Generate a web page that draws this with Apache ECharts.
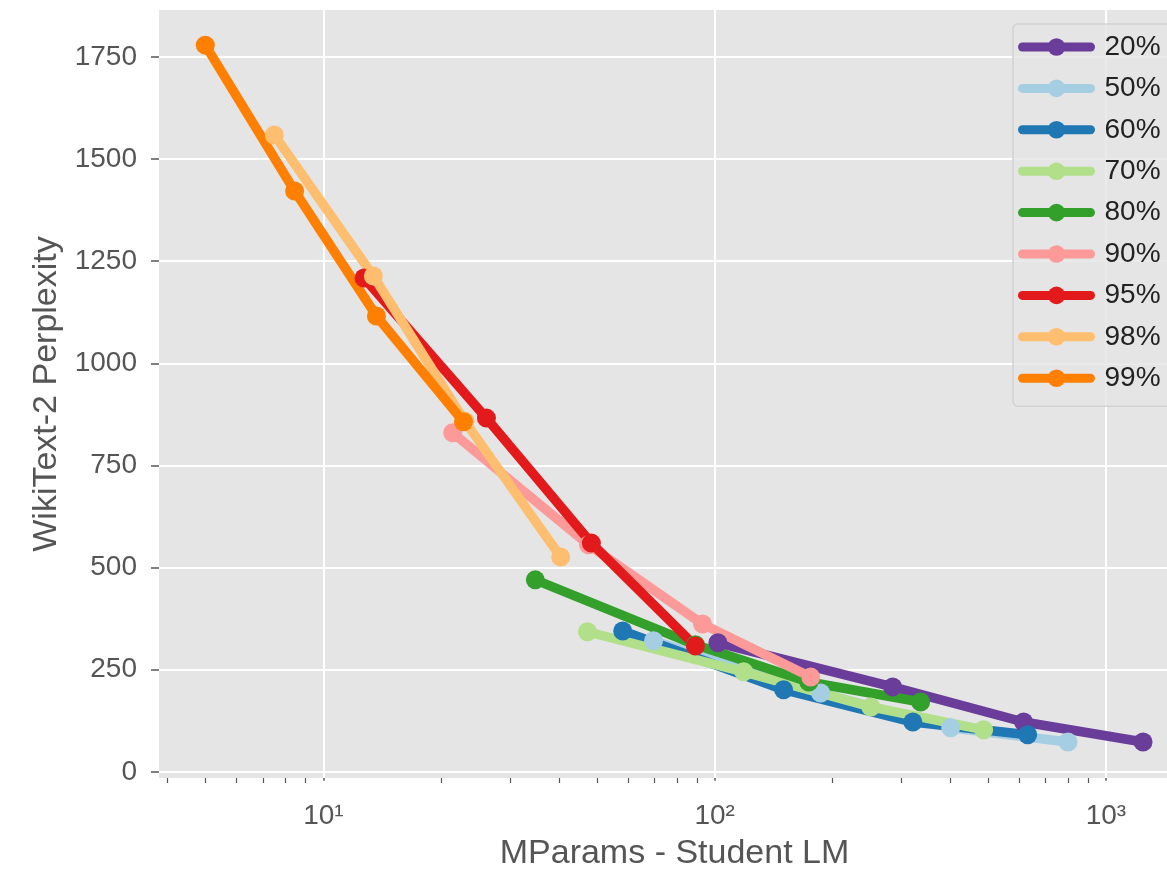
<!DOCTYPE html>
<html><head><meta charset="utf-8">
<script src="https://cdn.jsdelivr.net/npm/echarts@6/dist/echarts.min.js"></script>
<style>html,body{margin:0;padding:0;background:#fff}#c{width:1167px;height:873px}</style>
</head><body><div id="c"></div>
<script>
// Legend names / series (x = MParams of student LM, y = WikiText-2 perplexity)
const names = ['20%', '50%', '60%', '70%', '80%', '90%', '95%', '98%', '99%'];
const colors = ['#6a3d9a', '#a6cee3', '#1f78b4', '#b2df8a', '#33a02c', '#fb9a99', '#e31a1c', '#fdbf6f', '#ff7f00'];
const s20 = [[101.9, 316], [285, 208], [616, 122], [1244, 73]];
const s50 = [[69.8, 321], [186.6, 193], [401, 108], [800, 73]];
const s60 = [[58.2, 345], [150, 201], [321, 122], [631, 91]];
const s70 = [[47.3, 343], [118.6, 245], [250.7, 159], [487, 103]];
const s80 = [[34.8, 470], [89.3, 311], [174, 220], [336, 171]];
const s90 = [[21.4, 830], [47.6, 556], [93.1, 362], [176, 232]];
const s95 = [[12.7, 1209], [26.1, 866], [48.4, 560], [89.3, 308]];
const s98 = [[7.49, 1559], [13.42, 1214], [23.0, 858], [40.4, 526]];
const s99 = [[4.99, 1779], [8.44, 1422], [13.66, 1116], [22.8, 857]];
const seriesData = [s20, s50, s60, s70, s80, s90, s95, s98, s99];
// ticks
const yTicks = [0, 250, 500, 750, 1000, 1250, 1500, 1750];
const xMajor = [10, 100, 1000];
const xMinor = [4, 5, 6, 7, 8, 9, 20, 30, 40, 50, 60, 70, 80, 90, 200, 300, 400, 500, 600, 700, 800, 900];

const FONT = "'Liberation Sans', Arial, Helvetica, sans-serif";
const TXT = '#555555';
const sup = {1: '\u00b9', 2: '\u00b2', 3: '\u00b3'};

const chart = echarts.init(document.getElementById('c'), null, {renderer: 'canvas'});

const series = seriesData.map((d, i) => ({
  name: names[i],
  type: 'line',
  data: d,
  z: 3,
  symbol: 'circle',
  symbolSize: 19,
  showAllSymbol: true,
  lineStyle: {width: 9.5, color: colors[i], cap: 'round', join: 'round'},
  itemStyle: {color: colors[i]},
  emphasis: {disabled: true},
  animation: false
}));

// background grid lines through the library's scales
series.unshift({
  name: '__grid',
  type: 'line',
  data: [],
  z: 1,
  silent: true,
  animation: false,
  markLine: {
    z: 1,
    silent: true,
    animation: false,
    symbol: ['none', 'none'],
    label: {show: false},
    lineStyle: {color: '#ffffff', width: 2, type: 'solid'},
    emphasis: {disabled: true},
    data: yTicks.map(v => ({yAxis: v})).concat(xMajor.map(v => ({xAxis: v})))
  }
});

chart.setOption({
  animation: false,
  backgroundColor: '#ffffff',
  textStyle: {fontFamily: FONT},
  color: colors,
  grid: {
    left: 159, width: 1031, top: 10, bottom: 95,
    containLabel: false, outerBoundsMode: 'none',
    show: true, backgroundColor: '#e5e5e5', borderWidth: 0
  },
  legend: {
    data: names,
    orient: 'vertical',
    left: 1013, top: 24,
    padding: [9, 30, 14, 5],
    itemWidth: 68, itemHeight: 22, itemGap: 13.4,
    lineStyle: {width: 9},
    backgroundColor: 'rgba(229,229,229,0.8)',
    borderColor: 'rgba(204,204,204,0.8)',
    borderWidth: 1.5,
    borderRadius: 5,
    textStyle: {fontFamily: FONT, fontSize: 28, color: '#222', lineHeight: 28, padding: [0, 0, 0, 9]}
  },
  xAxis: [{
    type: 'log', logBase: 10, min: 3.8, max: 1640,
    name: 'MParams - Student LM',
    nameLocation: 'middle', nameGap: 59,
    nameTextStyle: {fontFamily: FONT, fontSize: 34, color: TXT},
    axisLine: {show: false},
    splitLine: {show: false},
    axisTick: {show: true, length: 9, lineStyle: {color: TXT, width: 1.5}, customValues: xMajor},
    axisLabel: {
      customValues: xMajor, margin: 24, fontFamily: FONT, fontSize: 28, color: TXT,
      formatter: v => '10' + sup[Math.round(Math.log10(v))]
    }
  }, {
    type: 'log', logBase: 10, min: 3.8, max: 1640, position: 'bottom',
    axisLine: {show: false}, splitLine: {show: false}, axisLabel: {show: false},
    axisTick: {show: true, length: 5, lineStyle: {color: TXT, width: 1.2}, customValues: xMinor}
  }],
  yAxis: {
    type: 'value', min: -15, max: 1865,
    name: 'WikiText-2 Perplexity',
    nameLocation: 'middle', nameGap: 90,
    nameTextStyle: {fontFamily: FONT, fontSize: 34, color: TXT},
    axisLine: {show: false},
    splitLine: {show: false},
    axisTick: {show: true, length: 8, lineStyle: {color: TXT, width: 1.5}, customValues: yTicks},
    axisLabel: {customValues: yTicks, margin: 22, fontFamily: FONT, fontSize: 28, color: TXT,
      formatter: v => String(v)}
  },
  series: series
});
</script>
</body></html>
